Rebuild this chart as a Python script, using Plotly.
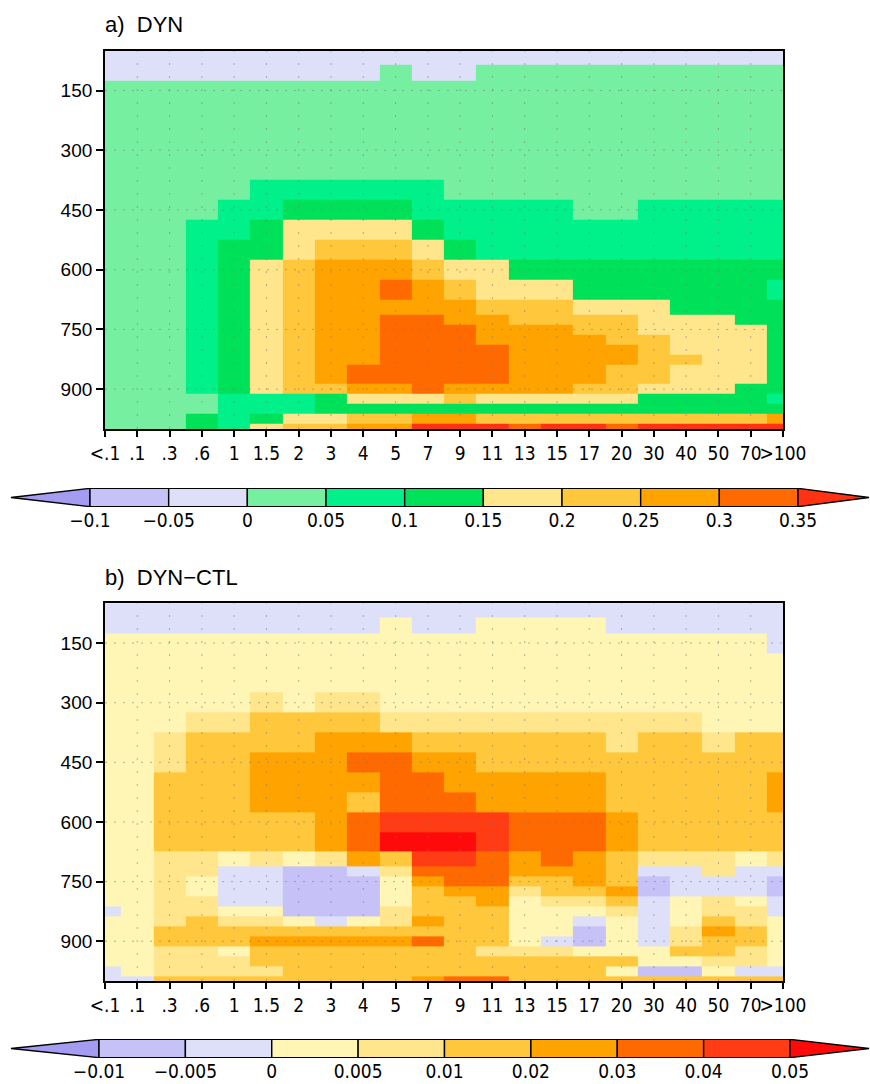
import plotly.graph_objects as go

# ---------------- data ----------------
size_bins = ["<.1", ".1", ".3", ".6", "1", "1.5", "2", "3", "4", "5", "7", "9",
             "11", "13", "15", "17", "20", "30", "40", "50", "70", ">100"]
pressure = [50, 70, 100, 150, 200, 250, 300, 350, 400, 450, 500, 550, 600, 650,
            700, 725, 750, 775, 800, 825, 850, 875, 900, 925, 950, 975, 1000]
p_ticks = [150, 300, 450, 600, 750, 900]

levels_a = [-0.1, -0.05, 0, 0.05, 0.1, 0.15, 0.2, 0.25, 0.3, 0.35]
labels_a = ["\u22120.1", "\u22120.05", "0", "0.05", "0.1", "0.15", "0.2", "0.25", "0.3", "0.35"]
colors_a = ["#a39cf0", "#c6c2f8", "#dee0fa", "#76f0a0", "#00f08a", "#00e15a",
            "#ffe68c", "#ffc83c", "#ffa300", "#ff6a00", "#ff3214"]

levels_b = [-0.01, -0.005, 0, 0.005, 0.01, 0.02, 0.03, 0.04, 0.05]
labels_b = ["\u22120.01", "\u22120.005", "0", "0.005", "0.01", "0.02", "0.03", "0.04", "0.05"]
colors_b = ["#a39cf0", "#c6c2f8", "#dee0fa", "#fff5b4", "#ffe68c", "#ffc83c",
            "#ffa300", "#ff6a00", "#ff3c14", "#ff0a0a"]

# panel a: DYN (rows = pressure levels, cols = size bins)
dyn = [
 [-.025,-.025,-.025,-.025,-.025,-.025,-.025,-.025,-.025,-.025,-.025,-.025,-.025,-.025,-.025,-.025,-.025,-.025,-.025,-.025,-.025,-.025],
 [-.025,-.025,-.025,-.025,-.025,-.025,-.025,-.025,-.025,-.025,-.025,-.025,-.025,-.025,-.025,-.025,-.025,-.025,-.025,-.025,-.025,-.025],
 [-.025,-.025,-.025,-.025,-.025,-.025,-.025,-.025,-.025,.025,-.025,-.025,.025,.025,.025,.025,.025,.025,.025,.025,.025,.025],
 [.025,.025,.025,.025,.025,.025,.025,.025,.025,.025,.025,.025,.025,.025,.025,.025,.025,.025,.025,.025,.025,.025],
 [.025,.025,.025,.025,.025,.025,.025,.025,.025,.025,.025,.025,.025,.025,.025,.025,.025,.025,.025,.025,.025,.025],
 [.025,.025,.025,.025,.025,.025,.025,.025,.025,.025,.025,.025,.025,.025,.025,.025,.025,.025,.025,.025,.025,.025],
 [.025,.025,.025,.025,.025,.025,.025,.025,.025,.025,.025,.025,.025,.025,.025,.025,.025,.025,.025,.025,.025,.025],
 [.025,.025,.025,.025,.025,.025,.025,.025,.025,.025,.025,.025,.025,.025,.025,.025,.025,.025,.025,.025,.025,.025],
 [.025,.025,.025,.025,.025,.075,.075,.075,.075,.075,.075,.025,.025,.025,.025,.025,.025,.025,.025,.025,.025,.025],
 [.025,.025,.025,.025,.075,.075,.125,.125,.125,.125,.075,.075,.075,.075,.075,.025,.025,.075,.075,.075,.075,.075],
 [.025,.025,.025,.075,.075,.125,.175,.175,.175,.175,.125,.075,.075,.075,.075,.075,.075,.075,.075,.075,.075,.075],
 [.025,.025,.025,.075,.125,.125,.175,.225,.225,.225,.175,.125,.075,.075,.075,.075,.075,.075,.075,.075,.075,.075],
 [.025,.025,.025,.075,.125,.175,.225,.275,.275,.275,.225,.175,.175,.125,.125,.125,.125,.125,.125,.125,.125,.125],
 [.025,.025,.025,.075,.125,.175,.225,.275,.275,.325,.275,.225,.175,.175,.175,.125,.125,.125,.125,.125,.125,.075],
 [.025,.025,.025,.075,.125,.175,.225,.275,.275,.275,.275,.275,.225,.225,.225,.175,.175,.175,.125,.125,.125,.125],
 [.025,.025,.025,.075,.125,.175,.225,.275,.275,.325,.325,.275,.275,.225,.225,.225,.225,.175,.175,.175,.125,.125],
 [.025,.025,.025,.075,.125,.175,.225,.275,.275,.325,.325,.325,.275,.275,.275,.225,.225,.175,.175,.175,.175,.125],
 [.025,.025,.025,.075,.125,.175,.225,.275,.275,.325,.325,.325,.275,.275,.275,.275,.225,.225,.175,.175,.175,.125],
 [.025,.025,.025,.075,.125,.175,.225,.275,.275,.325,.325,.325,.325,.275,.275,.275,.275,.225,.175,.175,.175,.125],
 [.025,.025,.025,.075,.125,.175,.225,.275,.275,.325,.325,.325,.325,.275,.275,.275,.275,.225,.225,.175,.175,.125],
 [.025,.025,.025,.075,.125,.175,.225,.275,.325,.325,.325,.325,.325,.275,.275,.275,.225,.225,.175,.175,.175,.125],
 [.025,.025,.025,.075,.125,.175,.225,.275,.325,.325,.325,.325,.325,.275,.275,.275,.225,.225,.175,.175,.175,.125],
 [.025,.025,.025,.075,.125,.175,.225,.225,.275,.275,.325,.275,.275,.275,.275,.225,.225,.175,.175,.175,.125,.125],
 [.025,.025,.025,.025,.075,.075,.075,.125,.175,.175,.175,.225,.175,.175,.175,.175,.175,.125,.125,.125,.125,.075],
 [.025,.025,.025,.025,.075,.075,.075,.125,.125,.125,.125,.125,.125,.125,.125,.125,.125,.125,.125,.125,.125,.125],
 [.025,.025,.025,.125,.075,.125,.175,.175,.225,.225,.275,.275,.225,.225,.225,.225,.225,.225,.225,.225,.225,.275],
 [.025,.025,.025,.125,.075,.175,.225,.225,.275,.275,.375,.375,.375,.325,.375,.375,.325,.375,.375,.375,.375,.375],
]

# panel b: DYN-CTL
dyn_ctl = [
 [-.0025,-.0025,-.0025,-.0025,-.0025,-.0025,-.0025,-.0025,-.0025,-.0025,-.0025,-.0025,-.0025,-.0025,-.0025,-.0025,-.0025,-.0025,-.0025,-.0025,-.0025,-.0025],
 [-.0025,-.0025,-.0025,-.0025,-.0025,-.0025,-.0025,-.0025,-.0025,-.0025,-.0025,-.0025,-.0025,-.0025,-.0025,-.0025,-.0025,-.0025,-.0025,-.0025,-.0025,-.0025],
 [-.0025,-.0025,-.0025,-.0025,-.0025,-.0025,-.0025,-.0025,-.0025,.0025,-.0025,-.0025,.0025,.0025,.0025,.0025,-.0025,-.0025,-.0025,-.0025,-.0025,-.0025],
 [.0025,.0025,.0025,.0025,.0025,.0025,.0025,.0025,.0025,.0025,.0025,.0025,.0025,.0025,.0025,.0025,.0025,.0025,.0025,.0025,.0025,-.0025],
 [.0025,.0025,.0025,.0025,.0025,.0025,.0025,.0025,.0025,.0025,.0025,.0025,.0025,.0025,.0025,.0025,.0025,.0025,.0025,.0025,.0025,.0025],
 [.0025,.0025,.0025,.0025,.0025,.0025,.0025,.0025,.0025,.0025,.0025,.0025,.0025,.0025,.0025,.0025,.0025,.0025,.0025,.0025,.0025,.0025],
 [.0025,.0025,.0025,.0025,.0025,.0075,.0025,.0075,.0075,.0025,.0025,.0025,.0025,.0025,.0025,.0025,.0025,.0025,.0025,.0025,.0025,.0025],
 [.0025,.0025,.0025,.0075,.0075,.015,.015,.015,.015,.0075,.0075,.0075,.0075,.0075,.0075,.0075,.0075,.0075,.0075,.0025,.0025,.0025],
 [.0025,.0025,.0075,.015,.015,.015,.015,.025,.025,.025,.015,.015,.015,.015,.015,.015,.0075,.015,.015,.0075,.015,.015],
 [.0025,.0025,.0075,.015,.015,.025,.025,.025,.035,.035,.025,.025,.015,.015,.015,.015,.015,.015,.015,.015,.015,.015],
 [.0025,.0025,.015,.015,.015,.025,.025,.025,.025,.035,.035,.025,.025,.025,.025,.025,.015,.015,.015,.015,.015,.025],
 [.0025,.0025,.015,.015,.015,.025,.025,.025,.015,.035,.035,.035,.025,.025,.025,.025,.015,.015,.015,.015,.015,.025],
 [.0025,.0025,.015,.015,.015,.015,.015,.025,.035,.045,.045,.045,.045,.035,.035,.035,.025,.015,.015,.015,.015,.015],
 [.0025,.0025,.015,.015,.015,.015,.015,.025,.035,.055,.055,.055,.045,.035,.035,.035,.025,.015,.015,.015,.015,.015],
 [.0025,.0025,.0075,.0075,.0025,.0075,.0025,.0075,.025,.015,.045,.045,.035,.025,.035,.025,.015,.0075,.0075,.0075,.0025,.0075],
 [.0025,.0025,.0075,.0075,-.0025,-.0025,-.0075,-.0075,-.0025,.0075,.035,.035,.035,.025,.025,.025,.015,-.0025,-.0025,.0075,-.0025,-.0025],
 [.0025,.0025,.0075,.0025,-.0025,-.0025,-.0075,-.0075,-.0075,.0025,.025,.035,.035,.015,.015,.025,.015,-.0075,-.0025,-.0025,-.0025,-.0075],
 [.0025,.0025,.0075,.0025,-.0025,-.0025,-.0075,-.0075,-.0075,.0025,.015,.025,.025,.0075,.015,.015,.025,-.0075,-.0025,-.0025,-.0025,-.0075],
 [.0025,.0025,.0075,.0075,-.0025,-.0025,-.0075,-.0075,-.0075,.0025,.015,.015,.025,.0025,.0075,.0075,.015,-.0025,.0025,.0075,.0025,-.0025],
 [-.0025,.0025,.0075,.0075,.0025,.0025,-.0075,-.0075,-.0075,.0075,.015,.015,.015,.0025,.0025,.0025,.0075,-.0025,.0025,.0075,.0075,-.0025],
 [.0025,.0025,.0075,.015,.0075,.0075,.0025,-.0025,.0025,.0075,.025,.015,.015,.0025,.0025,-.0025,.0025,-.0025,.0025,.015,.0075,.0025],
 [.0025,.0025,.015,.015,.015,.015,.015,.015,.015,.015,.015,.015,.015,.0025,.0025,-.0075,.0025,-.0025,.0075,.025,.015,.0025],
 [.0025,.0025,.015,.015,.015,.025,.025,.025,.025,.025,.035,.015,.015,.0025,-.0025,-.0075,.0025,-.0025,.0075,.015,.015,.0025],
 [.0025,.0025,.0075,.0075,.0025,.015,.015,.015,.015,.015,.015,.015,.0075,.0075,.0075,.0025,.0025,.0025,.015,.015,.0075,.0025],
 [.0025,.0025,.0075,.0075,.0075,.015,.015,.015,.015,.015,.015,.015,.015,.015,.015,.015,.015,.0025,.0025,.0075,.0075,.0025],
 [-.0025,.0025,.0075,.0075,.0075,.0075,.015,.015,.015,.015,.015,.015,.015,.015,.015,.015,.0025,-.0075,-.0075,.0025,-.0025,-.0025],
 [-.0025,-.0025,.015,.015,.015,.015,.015,.015,.015,.015,.025,.035,.035,.015,.015,.015,.015,.015,.015,.015,.015,.015],
]

# ---------------- helpers ----------------
W, H = 870, 1084
PX_L, PX_R = 105, 783


def stepped_scale(levels, colors):
    lo = levels[0] - (levels[1] - levels[0])
    hi = levels[-1] + (levels[-1] - levels[-2])
    bounds = [lo] + list(levels) + [hi]
    scale = []
    for i, c in enumerate(colors):
        scale.append([(bounds[i] - lo) / (hi - lo), c])
        scale.append([(bounds[i + 1] - lo) / (hi - lo), c])
    return scale, lo, hi


def ydom(top_px, bot_px):
    return [1 - bot_px / H, 1 - top_px / H]


fig = go.Figure()

panels = [
    dict(z=dyn, levels=levels_a, colors=colors_a, xa="x", ya="y", top=50.7, bot=429, title="a)  DYN"),
    dict(z=dyn_ctl, levels=levels_b, colors=colors_b, xa="x2", ya="y2", top=603.3, bot=981, title="b)  DYN\u2212CTL"),
]

NARROW = "Liberation Sans Narrow, DejaVu Sans Condensed, Roboto Condensed, Liberation Sans, sans-serif"
tickfont_x = dict(family=NARROW, size=19, color="black")
tickfont_y = dict(family="Liberation Sans, Arial, sans-serif", size=19, color="black")
tickfont_cb = dict(family=NARROW, size=19, color="black")

for i, p in enumerate(panels):
    scale, lo, hi = stepped_scale(p["levels"], p["colors"])
    fig.add_trace(go.Heatmap(
        z=p["z"], x=list(range(len(size_bins))), y=pressure,
        colorscale=scale, zmin=lo, zmax=hi, showscale=False,
        xaxis=p["xa"], yaxis=p["ya"], hoverinfo="skip"))
    n = "" if i == 0 else "2"
    fig.layout["xaxis" + n] = dict(
        domain=[PX_L / W, PX_R / W], range=[0, len(size_bins) - 1], anchor=p["ya"],
        tickmode="array", tickvals=list(range(len(size_bins))), ticktext=size_bins,
        tickangle=0, ticks="outside", ticklen=6, tickwidth=1.5, tickcolor="black",
        showline=True, mirror=True, linecolor="black", linewidth=1.8, automargin=False,
        showgrid=False, zeroline=False, tickfont=tickfont_x, layer="above traces")
    fig.layout["yaxis" + n] = dict(
        domain=ydom(p["top"], p["bot"]), range=[1000, 50], anchor=p["xa"],
        tickmode="array", tickvals=p_ticks, ticktext=[str(t) for t in p_ticks],
        ticks="outside", ticklen=7, tickwidth=1.5, tickcolor="black",
        showline=True, mirror=True, linecolor="black", linewidth=1.8, automargin=False,
        showgrid=False, zeroline=False, tickfont=tickfont_y, layer="above traces")
    # dotted grid lines
    for k in range(1, len(size_bins) - 1):
        fig.add_shape(type="line", xref=p["xa"], yref=p["ya"] + " domain", x0=k, x1=k, y0=0, y1=1,
                      line=dict(color="rgba(120,120,120,0.55)", width=1, dash="2px,11px"), layer="above")
    for t in p_ticks:
        fig.add_shape(type="line", xref=p["xa"] + " domain", yref=p["ya"], x0=0, x1=1, y0=t, y1=t,
                      line=dict(color="rgba(120,120,120,0.55)", width=1, dash="2px,7px"), layer="above")
    fig.add_annotation(text=p["title"], xref="paper", yref="paper", x=103 / W,
                       y=1 - (p["top"] - 26) / H, xanchor="left", yanchor="middle", showarrow=False,
                       font=dict(family="Liberation Sans, Arial, sans-serif", size=22, color="black"))

# ---------------- colour bars (drawn on their own axes) ----------------
cbars = [
    dict(levels=levels_a, labels=labels_a, colors=colors_a, left=90, right=798, top=488, bot=507, n="3"),
    dict(levels=levels_b, labels=labels_b, colors=colors_b, left=99, right=790, top=1039, bot=1058, n="4"),
]
for cb in cbars:
    nbox = len(cb["levels"]) - 1
    bw = (cb["right"] - cb["left"]) / nbox
    xa, ya = "x" + cb["n"], "y" + cb["n"]
    xr = [-cb["left"] / bw, nbox + (W - cb["right"]) / bw]
    tip_l = -(cb["left"] - 11) / bw
    tip_r = nbox + (W - 1 - cb["right"]) / bw
    fig.add_trace(go.Scatter(x=[0, tip_l, 0, 0], y=[0, 0.5, 1, 0], fill="toself",
                             fillcolor=cb["colors"][0], mode="lines",
                             line=dict(color="black", width=1.4), xaxis=xa, yaxis=ya,
                             showlegend=False, hoverinfo="skip", cliponaxis=False))
    for k in range(nbox):
        fig.add_trace(go.Scatter(x=[k, k + 1, k + 1, k, k], y=[0, 0, 1, 1, 0], fill="toself",
                                 fillcolor=cb["colors"][k + 1], mode="lines",
                                 line=dict(color="black", width=1.4), xaxis=xa, yaxis=ya,
                                 showlegend=False, hoverinfo="skip", cliponaxis=False))
    fig.add_trace(go.Scatter(x=[nbox, tip_r, nbox, nbox], y=[0, 0.5, 1, 0], fill="toself",
                             fillcolor=cb["colors"][-1], mode="lines",
                             line=dict(color="black", width=1.4), xaxis=xa, yaxis=ya,
                             showlegend=False, hoverinfo="skip", cliponaxis=False))
    fig.layout["xaxis" + cb["n"]] = dict(
        domain=[0, 1], range=xr, anchor=ya, showgrid=False, zeroline=False, showline=False,
        tickmode="array", tickvals=list(range(nbox + 1)), ticktext=cb["labels"], ticks="",
        tickangle=0, tickfont=tickfont_cb, fixedrange=True, automargin=False)
    fig.layout["yaxis" + cb["n"]] = dict(
        domain=ydom(cb["top"], cb["bot"]), range=[-0.02, 1.02], anchor=xa, showgrid=False,
        zeroline=False, showline=False, showticklabels=False, fixedrange=True, automargin=False)

fig.update_layout(width=W, height=H, margin=dict(l=0, r=0, t=0, b=0, pad=0, autoexpand=False),
                  paper_bgcolor="white", plot_bgcolor="white", showlegend=False)

fig.write_html("out.html", config={"displayModeBar": False, "responsive": False},
               post_script="document.body.style.margin='0';document.body.style.overflow='hidden';")
